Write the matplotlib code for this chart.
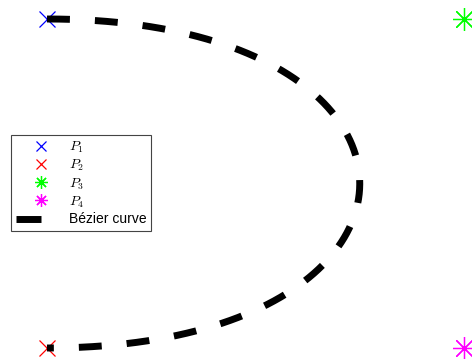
import numpy as np
import matplotlib
matplotlib.use("Agg")
import matplotlib.pyplot as plt
from matplotlib.lines import Line2D
from matplotlib.legend_handler import HandlerLine2DCompound

plt.rcParams['font.family'] = ['Liberation Sans', 'DejaVu Sans']
plt.rcParams['mathtext.fontset'] = 'cm'

# Control points of the cubic Bezier curve
point_labels = [r'$P_1$', r'$P_2$', r'$P_3$', r'$P_4$']
point_x = [0.0, 0.0, 1.0, 1.0]
point_y = [1.0, 0.0, 1.0, 0.0]
point_colors = ['#0000ff', '#ff0000', '#00ff00', '#ff00ff']
point_markers = ['x', 'x', (8, 2, 0), (8, 2, 0)]
point_marker_sizes = [12, 12, 16.5, 16.5]
curve_label = 'Bézier curve'

# Curve runs P1 -> P3 -> P4 -> P2 (start, two handles, end)
curve_order = [0, 2, 3, 1]


def bezier(px, py, t):
    b = np.array([(1 - t) ** 3, 3 * (1 - t) ** 2 * t, 3 * (1 - t) * t ** 2, t ** 3])
    return b.T @ np.asarray(px), b.T @ np.asarray(py)


class EndMarkerHandler(HandlerLine2DCompound):
    """Legend handler: two-point handle line, single marker at its right end."""

    def get_xdata(self, legend, xdescent, ydescent, width, height, fontsize):
        xdata = np.array([-xdescent, -xdescent + width])
        return xdata, np.array([-xdescent + width])


fig = plt.figure(figsize=(4.72, 3.59), dpi=100)
ax = fig.add_axes([0, 0, 1, 1])
ax.set_axis_off()

W, H = 472, 359
x0, x1 = 47, 464      # pixel columns of x = 0 and x = 1
y0, y1 = 348, 19      # pixel rows of y = 0 and y = 1
sx = x1 - x0
sy = y0 - y1
ax.set_xlim(-x0 / sx, (W - x0) / sx)
ax.set_ylim(-(H - y0) / sy, y0 / sy)

handles = []
for lab, x, y, c, m, ms in zip(point_labels, point_x, point_y, point_colors,
                               point_markers, point_marker_sizes):
    h, = ax.plot([x], [y], linestyle='none', marker=m, markersize=ms,
                 markeredgewidth=0.9, color=c, label=lab, clip_on=True)
    handles.append(h)

t = np.linspace(0, 1, 400)
cx, cy = bezier([point_x[i] for i in curve_order], [point_y[i] for i in curve_order], t)
ax.plot(cx, cy, color='black', linewidth=5.0, dashes=(3.3, 3.6),
        dash_capstyle='butt')

# solid bar for the curve's legend entry
handles.append(Line2D([], [], color='black', linewidth=5.0, linestyle='-',
                      solid_capstyle='butt', label=curve_label))

handler_map = {h: EndMarkerHandler() for h in handles}
leg = ax.legend(handles=handles, handler_map=handler_map,
                loc='upper left', bbox_to_anchor=(11 / W, 1 - 135 / H),
                bbox_transform=fig.transFigure, borderaxespad=0,
                fontsize=10, labelspacing=0.2, handlelength=1.8,
                handletextpad=2.0, borderpad=0.35, markerscale=0.56,
                fancybox=False, framealpha=1, edgecolor='#444444')
leg.get_frame().set_linewidth(0.8)

fig.savefig('out.png', dpi=100)
